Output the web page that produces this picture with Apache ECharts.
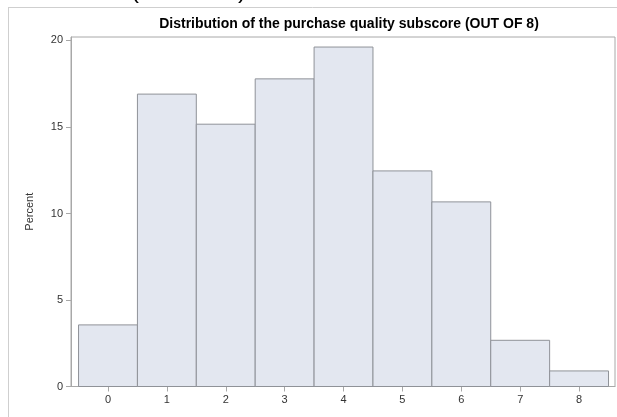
<!DOCTYPE html>
<html>
<head>
<meta charset="utf-8">
<script src="https://cdn.jsdelivr.net/npm/echarts@6/dist/echarts.min.js"></script>
<style>
html,body{margin:0;padding:0;background:#fff;}
#chart{width:617px;height:417px;}
</style>
</head>
<body>
<div id="chart"></div>
<script>
// Data
const categories = [0, 1, 2, 3, 4, 5, 6, 7, 8];
const percents = [3.56, 16.9, 15.16, 17.78, 19.62, 12.46, 10.67, 2.67, 0.9];
const yTicks = [0, 5, 10, 15, 20];
const titleText = 'Distribution of the purchase quality subscore (OUT OF 8)';
const yName = 'Percent';

const chart = echarts.init(document.getElementById('chart'), null, {renderer: 'canvas'});
const font = 'Arial, "Liberation Sans", sans-serif';

const option = {
  animation: false,
  backgroundColor: '#fff',
  title: {
    text: titleText,
    left: 344,
    top: 12,
    textAlign: 'center',
    textStyle: {fontFamily: font, fontSize: 14, fontWeight: 'bold', color: '#000'}
  },
  grid: {
    left: 71, right: 2, top: 37, bottom: 30.5,
    show: true, borderColor: '#a8a8a8', borderWidth: 1, backgroundColor: '#fff'
  },
  xAxis: {
    type: 'value',
    min: -0.628,
    max: 8.61,
    splitLine: {show: false},
    axisLine: {show: true, onZero: false, lineStyle: {color: '#a8a8a8'}},
    axisTick: {show: true, length: 5, lineStyle: {color: '#a8a8a8'}, customValues: categories},
    axisLabel: {customValues: categories, margin: 8, fontFamily: font, fontSize: 11, color: '#333'}
  },
  yAxis: {
    type: 'value',
    min: 0,
    max: 20.2,
    name: yName,
    nameLocation: 'middle',
    nameGap: 36,
    nameTextStyle: {fontFamily: font, fontSize: 11, color: '#333'},
    splitLine: {show: false},
    axisLine: {show: true, onZero: false, lineStyle: {color: '#a8a8a8'}},
    axisTick: {show: true, length: 5, lineStyle: {color: '#a8a8a8'}, customValues: yTicks},
    axisLabel: {customValues: yTicks, margin: 8, fontFamily: font, fontSize: 11, color: '#333'}
  },
  series: [{
    type: 'custom',
    data: categories.map((c, i) => [c, percents[i]]),
    renderItem: function (params, api) {
      const x = api.value(0), y = api.value(1);
      const p0 = api.coord([x - 0.5, y]);
      const p1 = api.coord([x + 0.5, 0]);
      return {
        type: 'rect',
        shape: {x: p0[0], y: p0[1], width: p1[0] - p0[0], height: p1[1] - p0[1]},
        style: {fill: '#e3e7f0', stroke: '#8f9298', lineWidth: 1}
      };
    }
  }],
  graphic: [
    {type: 'line', shape: {x1: 8.5, y1: 7, x2: 8.5, y2: 417}, style: {stroke: '#cfcfcf', lineWidth: 1}, silent: true},
    {type: 'line', shape: {x1: 8, y1: 7.5, x2: 617, y2: 7.5}, style: {stroke: '#cfcfcf', lineWidth: 1}, silent: true},
    {type: 'text', x: 131, y: 3, style: {text: '(', font: '24px ' + font, fill: '#000', verticalAlign: 'bottom', align: 'left'}},
    {type: 'text', x: 238, y: 3, style: {text: ')', font: '24px ' + font, fill: '#000', verticalAlign: 'bottom', align: 'left'}}
  ]
};
chart.setOption(option);
</script>
</body>
</html>
